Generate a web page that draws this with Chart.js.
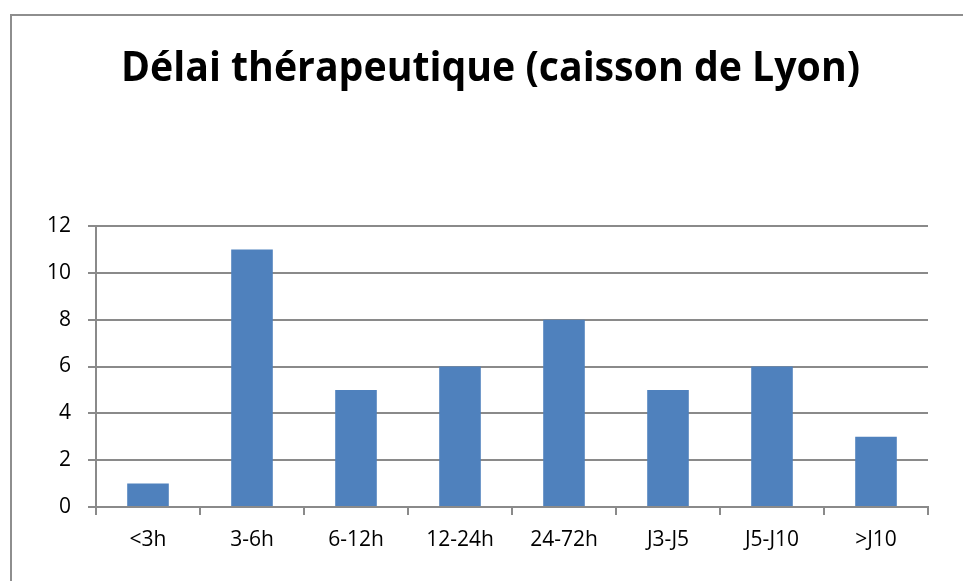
<!DOCTYPE html>
<html>
<head>
<meta charset="utf-8">
<script src="https://cdn.jsdelivr.net/npm/chart.js@4"></script>
<style>
  html, body { margin: 0; padding: 0; background: #fff; }
  #wrap { position: relative; width: 963px; height: 581px; }
  #cadre { position: absolute; left: 10px; top: 14px; right: 0; bottom: 0;
           border-left: 2px solid #8e8e8e; border-top: 2px solid #8e8e8e; }
  canvas { position: absolute; left: 0; top: 0; }
</style>
</head>
<body>
<div id="wrap">
  <div id="cadre"></div>
  <canvas id="graphDelai" width="963" height="581"></canvas>
</div>
<script>
// données
const categories = ['<3h', '3-6h', '6-12h', '12-24h', '24-72h', 'J3-J5', 'J5-J10', '>J10'];
const nbPatients = [1, 11, 5, 6, 8, 5, 6, 3];
const titre = 'Délai thérapeutique (caisson de Lyon)';

const gris = '#8a8a8a';

// titre dessiné à la main pour le centrer comme l'original
const pluginTitre = {
  id: 'titre',
  afterDraw(chart) {
    const ctx = chart.ctx;
    ctx.save();
    ctx.font = 'bold 42px "Open Sans"';
    ctx.fillStyle = '#000';
    ctx.textBaseline = 'alphabetic';
    ctx.textAlign = 'center';
    const w = ctx.measureText(titre).width;
    const sx = 739 / w;
    ctx.translate(490.5, 81);
    ctx.scale(sx, 1);
    ctx.fillText(titre, 0, 0);
    ctx.restore();
  }
};

let ctx = document.getElementById('graphDelai').getContext('2d');
let graphique = new Chart(ctx, {
  type: 'bar',
  data: {
    labels: categories,
    datasets: [{
      label: 'Délai',
      data: nbPatients,
      backgroundColor: '#4f81bd',
      borderWidth: 0,
      barPercentage: 0.4,
      categoryPercentage: 1
    }]
  },
  options: {
    responsive: false,
    animation: false,
    layout: { padding: { left: 0, right: 35, top: 226, bottom: 0 } },
    plugins: {
      legend: { display: false },
      title: { display: false },
      tooltip: { enabled: false }
    },
    scales: {
      x: {
        offset: true,
        grid: { offset: true, drawOnChartArea: false, drawTicks: true, tickLength: 8, color: gris, lineWidth: 2 },
        border: { color: gris, width: 2 },
        ticks: { color: '#000', font: { family: '"Open Sans"', size: 21 }, padding: 12, maxRotation: 0 },
        afterFit(scale) { scale.height = 74; }
      },
      y: {
        min: 0,
        max: 12,
        ticks: { stepSize: 2, color: '#000', font: { family: '"Open Sans"', size: 21 }, padding: 17 },
        grid: { color: gris, lineWidth: 2, tickLength: 8 },
        border: { color: gris, width: 2 },
        afterFit(scale) { scale.width = 96; }
      }
    }
  },
  plugins: [pluginTitre]
});
</script>
</body>
</html>
